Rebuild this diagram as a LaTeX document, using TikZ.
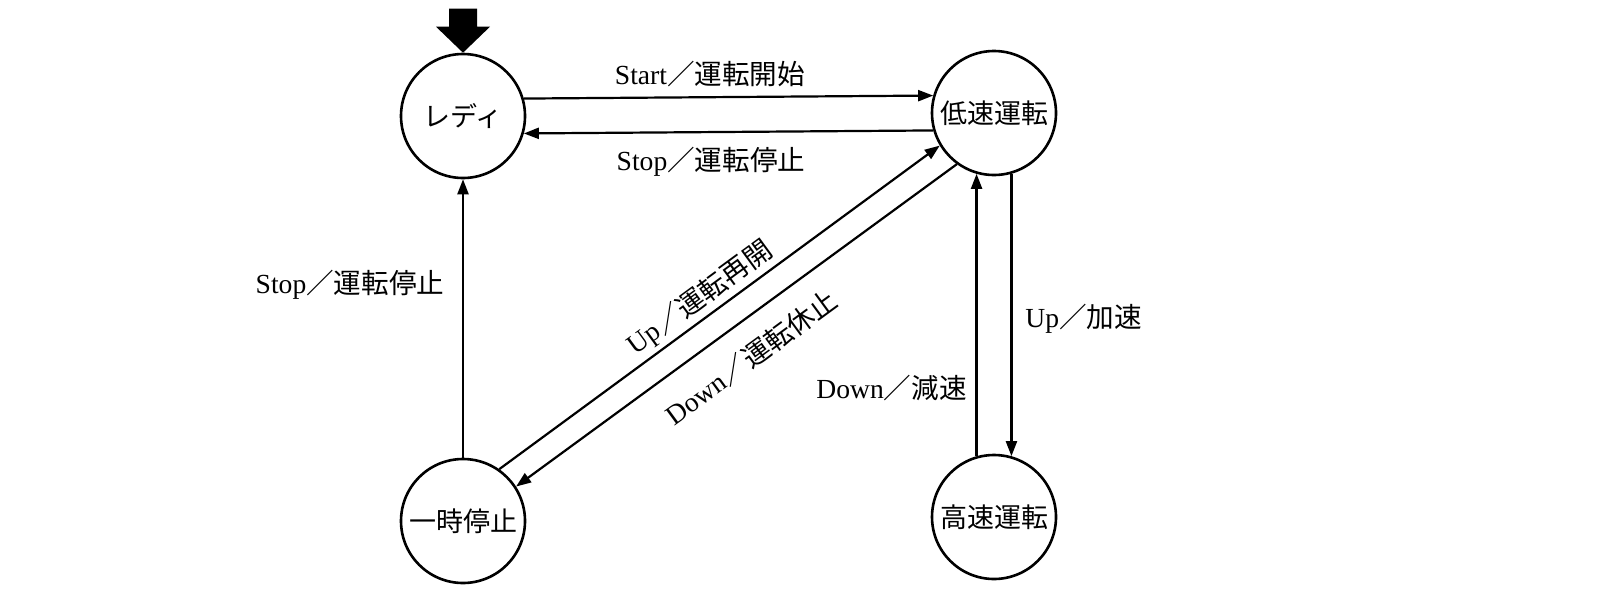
\documentclass[tikz,border=0pt]{standalone}
\usepackage{fontspec}
\setmainfont{Liberation Serif}
\newfontfamily\cjk{Noto Sans CJK JP}
\usetikzlibrary{arrows.meta}
\begin{document}
\begin{tikzpicture}[x=0.5pt,y=-0.5pt,
  state/.style={circle,draw,line width=1.3pt,minimum size=62pt,inner sep=0pt,
    font=\cjk\fontsize{13.5}{16}\selectfont},
  conn/.style={line width=1.1pt,-{Triangle[length=7.5pt,width=5.5pt]}},
  lbl/.style={font=\fontsize{13.8}{16}\selectfont,inner sep=0.5pt}]
\useasboundingbox (0,0) rectangle (1600,600);
\fill[white] (0,0) rectangle (1600,600);
% states
\node[state] (A) at (463,116) {レディ};
\node[state] (B) at (994,113) {低速運転};
\node[state] (C) at (463,521) {一時停止};
\node[state] (D) at (994,517) {高速運転};
% initial arrow
\fill (A.north) -- ++(-27,-26) -- ++(13,0) -- ++(0,-18) -- ++(28,0)
  -- ++(0,18) -- ++(13,0) -- cycle;
% transitions
\draw[conn] (A.16) -- (B.164);
\draw[conn] (B.196) -- (A.344);
\draw[conn] (C.north) -- (A.south);
\draw[conn] (C.55) -- (B.211);
\draw[conn] (B.234) -- (C.33);
\draw[conn] (B.286) -- (D.74);
\draw[conn] (D.106) -- (B.254);
% labels
\node[lbl] (l1) at (710,74) {Start{\cjk ／運転開始}};
\node[lbl] (l2) at (711,162) {Stop{\cjk ／運転停止}};
\node[lbl] (l3) at (350,285) {Stop{\cjk ／運転停止}};
\node[lbl,rotate=36.2] (l4) at (700,298) {Up{\cjk ／運転再開}};
\node[lbl,rotate=36.2] (l5) at (751,357) {Down{\cjk ／運転休止}};
\node[lbl,anchor=west] (l6) at (1024,319) {Up{\cjk ／加速}};
\node[lbl,anchor=east] (l7) at (968,388) {Down{\cjk ／減速}};
\end{tikzpicture}
\end{document}
